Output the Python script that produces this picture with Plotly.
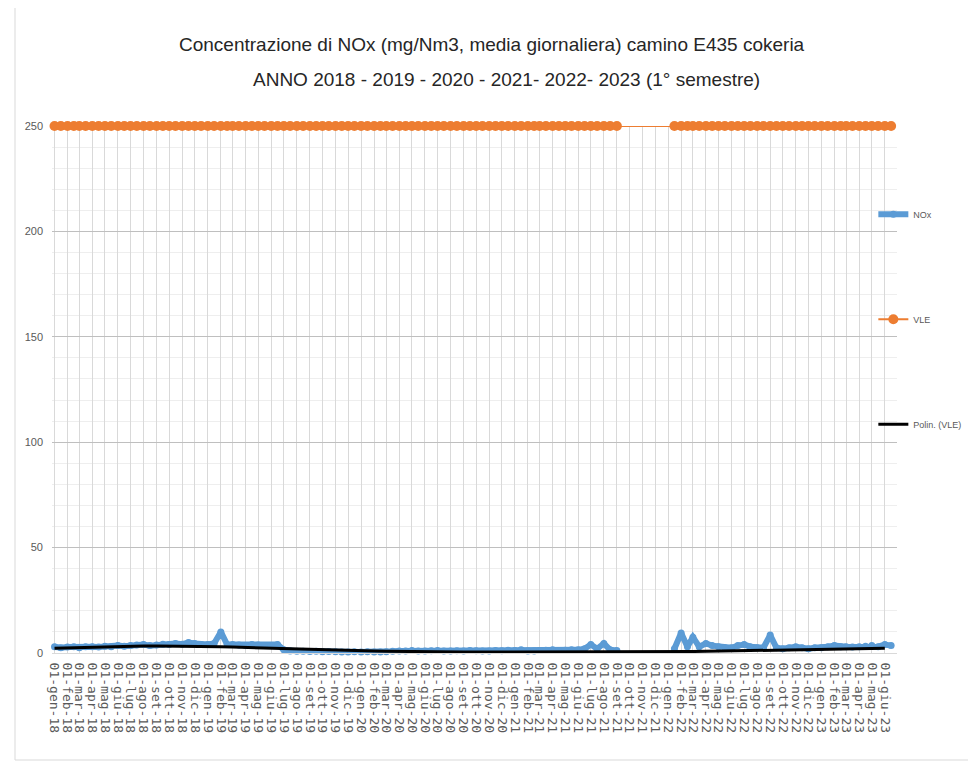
import plotly.graph_objects as go
import pandas as pd

# ---- data ----
month_names = ["gen", "feb", "mar", "apr", "mag", "giu", "lug", "ago", "set", "ott", "nov", "dic"]
months = pd.date_range("2018-01-01", "2023-06-01", freq="MS")
tick_labels = [f"01-{month_names[d.month-1]}-{str(d.year)[2:]}" for d in months]

# semi-monthly sample dates (1st and 16th of each month)
sample_dates = []
for d in months:
    sample_dates.append(d)
    sample_dates.append(d + pd.Timedelta(days=15))

nox_values = [
    # 2018
    3, 2.5, 2.8, 3, 2.5, 3, 3, 2.8, 3.2, 3, 3.5, 3.2, 3.5, 3.8, 4, 3.5, 3.8, 4.2, 4, 4.5, 4.2, 5, 4.5, 4,
    # 2019
    4, 4.5, 10, 4, 4, 3.8, 3.5, 4, 3.8, 3.5, 3.5, 4, 1.5, 1, 0.8, 0.8, 0.7, 0.8, 0.6, 0.7, 0.6, 0.5, 0.5, 0.6,
    # 2020
    0.5, 0.6, 0.5, 0.5, 0.6, 0.8, 1, 1, 1.2, 1, 1, 1.1, 1.2, 1, 1, 1.1, 1, 1.2, 1.1, 1, 1, 1.2, 1.1, 1.3,
    # 2021
    1.2, 1.5, 1, 1, 1.2, 1.3, 1.5, 1.2, 1.3, 1.5, 1.5, 2, 4, 2, 4.5, 1.5, 1.2, None, None, None, None, None, None, None,
    # 2022
    None, 2, 9.5, 3, 7.5, 3, 4.5, 3.5, 3, 2.5, 2.5, 3.5, 4, 3, 2.5, 2.5, 8.5, 2.5, 2, 2.5, 3, 2.5, 2, 2.5,
    # 2023
    2.5, 3, 3.5, 3, 3, 2.8, 3, 3.2, 3.5, 3, 4, 3.5,
]

vle_values = [250 if v is not None else None for v in nox_values]

trend_values = [
    2.2, 2.4, 2.6, 2.8, 3.0, 3.1, 3.2, 3.3, 3.3, 3.3, 3.3, 3.2,
    3.1, 3.0, 2.8, 2.6, 2.4, 2.2, 2.0, 1.8, 1.6, 1.4, 1.2, 1.1,
    1.0, 0.9, 0.8, 0.7, 0.7, 0.6, 0.6, 0.5, 0.5, 0.5, 0.5, 0.5,
    0.5, 0.5, 0.4, 0.4, 0.4, 0.4, 0.4, 0.4, 0.4, 0.4, 0.4, 0.5,
    0.5, 0.6, 0.7, 0.8, 0.9, 1.0, 1.1, 1.2, 1.3, 1.4, 1.5, 1.6,
    1.7, 1.8, 1.9, 2.0, 2.1, 2.2,
]

title_line1 = "Concentrazione di NOx (mg/Nm3, media giornaliera) camino E435 cokeria"
title_line2 = "ANNO 2018 - 2019 - 2020 - 2021- 2022- 2023 (1° semestre)"

# ---- figure ----
fig = go.Figure()
fig.add_trace(go.Scatter(
    x=sample_dates, y=nox_values, name="NOx", mode="lines+markers",
    line=dict(color="#5B9BD5", width=6), marker=dict(color="#5B9BD5", size=7),
    cliponaxis=False, legendgroup="a",
))
fig.add_trace(go.Scatter(
    x=sample_dates, y=vle_values, name="VLE", mode="lines+markers", connectgaps=True,
    line=dict(color="#ED7D31", width=2), marker=dict(color="#ED7D31", size=10),
    cliponaxis=False, legendgroup="b",
))
fig.add_trace(go.Scatter(
    x=months, y=trend_values, name="Polin. (VLE)", mode="lines",
    line=dict(color="#000000", width=3), legendgroup="c",
))

# page body has an 8px margin: figure is drawn at (8,8)
fig.update_layout(
    width=968, height=758,
    paper_bgcolor="white", plot_bgcolor="white",
    margin=dict(l=44, r=79, t=118, b=113, autoexpand=False),
    font=dict(family="Liberation Sans, sans-serif", color="#595959"),
    showlegend=True,
    legend=dict(x=0.972, y=0.86, xanchor="left", yanchor="top", font=dict(size=9, color="#595959"),
                tracegroupgap=86, bgcolor="rgba(0,0,0,0)", itemwidth=30),
)
fig.add_annotation(text=title_line1, xref="paper", yref="paper", x=0.521, y=(653 - 45) / 527,
                   yanchor="middle", showarrow=False,
                   font=dict(size=19, color="#262626", family="Liberation Sans, sans-serif"))
fig.add_annotation(text=title_line2, xref="paper", yref="paper", x=0.538, y=(653 - 80) / 527,
                   yanchor="middle", showarrow=False,
                   font=dict(size=19, color="#262626", family="Liberation Sans, sans-serif"))

fig.update_xaxes(
    type="date", range=["2017-12-26", "2023-06-30"],
    tickmode="array", tickvals=months, ticktext=tick_labels, tickangle=90,
    tickfont=dict(size=13, color="#595959", family="DejaVu Sans Mono, monospace"),
    showgrid=True, gridcolor="#D9D9D9", gridwidth=1,
    showline=True, linecolor="#D9D9D9", zeroline=False, ticks="", ticklabelstandoff=6,
)
fig.update_yaxes(
    range=[0, 250], tickvals=[0, 50, 100, 150, 200, 250],
    tickfont=dict(size=11, color="#595959"),
    showgrid=True, gridcolor="#BFBFBF", gridwidth=1,
    minor=dict(dtick=10, showgrid=True, gridcolor="#EEEEEE", gridwidth=1),
    zeroline=False, showline=False, ticks="", ticklabelstandoff=8,
)

# light chart-area border
fig.add_shape(type="rect", xref="paper", yref="paper",
              x0=(15 - 52) / 845, x1=(974 - 52) / 845,
              y0=(653 - 760) / 527, y1=(653 - 3) / 527,
              line=dict(color="#D9D9D9", width=1), layer="below")

fig.write_html("out.html")
